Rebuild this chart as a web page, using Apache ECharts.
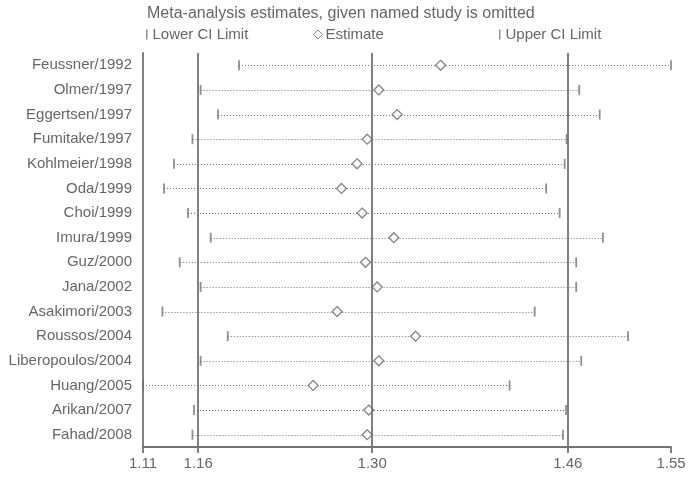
<!DOCTYPE html>
<html><head><meta charset="utf-8">
<script src="https://cdn.jsdelivr.net/npm/echarts@6/dist/echarts.min.js"></script>
<style>html,body{margin:0;padding:0;background:#fff}#c{width:698px;height:477px}</style>
</head><body><div id="c"></div>
<script>
const studies = ['Feussner/1992','Olmer/1997','Eggertsen/1997','Fumitake/1997','Kohlmeier/1998','Oda/1999','Choi/1999','Imura/1999','Guz/2000','Jana/2002','Asakimori/2003','Roussos/2004','Liberopoulos/2004','Huang/2005','Arikan/2007','Fahad/2008'];
const lowerCI   = [1.190, 1.158, 1.1725, 1.1512, 1.1358, 1.1275, 1.1475, 1.1664, 1.1406, 1.158, 1.1262, 1.1806, 1.158, 1.110, 1.1525, 1.1512];
const estimates = [1.358, 1.3065, 1.3218, 1.2968, 1.2884, 1.2754, 1.2926, 1.319, 1.2954, 1.3051, 1.2718, 1.3371, 1.3065, 1.2518, 1.2982, 1.2968];
const upperCI   = [1.550, 1.4735, 1.4906, 1.463, 1.4614, 1.446, 1.4572, 1.4933, 1.471, 1.471, 1.4364, 1.5142, 1.4752, 1.4155, 1.4625, 1.460];
const tickValues = [1.11, 1.156, 1.301, 1.464, 1.55];
const refLines = [1.156, 1.301, 1.464];

const gray = '#737373';
const textGray = '#666';
const chart = echarts.init(document.getElementById('c'));
chart.setOption({
  animation: false,
  textStyle: { fontFamily: '"Liberation Sans", Arial, sans-serif' },
  title: {
    text: 'Meta-analysis estimates, given named study is omitted',
    left: 147, top: 6, padding: 0,
    textStyle: { fontSize: 16, fontWeight: 'normal', color: textGray }
  },
  legend: [
    { data: ['Lower CI Limit'], left: 146, top: 27, padding: 0, itemWidth: 1.5, itemHeight: 10,
      textStyle: { fontSize: 15, color: textGray }, selectedMode: false },
    { data: ['Estimate'], left: 313, top: 27, padding: 0, itemWidth: 9, itemHeight: 9, itemGap: 0,
      itemStyle: { color: '#fff', borderColor: '#666', borderWidth: 1 },
      textStyle: { fontSize: 15, color: textGray, padding: [0,0,0,-2] }, selectedMode: false },
    { data: ['Upper CI Limit'], left: 499, top: 27, padding: 0, itemWidth: 1.5, itemHeight: 10,
      textStyle: { fontSize: 15, color: textGray }, selectedMode: false }
  ],
  grid: { left: 143, right: 27, top: 53, bottom: 30 },
  xAxis: {
    type: 'value', min: 1.11, max: 1.55,
    axisLine: { show: true, lineStyle: { color: gray, width: 1.8 } },
    axisTick: { show: true, customValues: tickValues, length: 6, lineStyle: { color: gray, width: 1.8 } },
    axisLabel: { customValues: tickValues, formatter: v => v.toFixed(2), fontSize: 15, color: textGray, margin: 9 },
    splitLine: { show: false }
  },
  yAxis: {
    type: 'category', data: studies, inverse: true,
    axisLine: { show: true, lineStyle: { color: gray, width: 1.8 } },
    axisTick: { show: false },
    axisLabel: { fontSize: 15, color: textGray, margin: 11 },
    splitLine: { show: false }
  },
  series: [
    {
      type: 'custom', name: 'CI', silent: true,
      data: studies.map((s, i) => [lowerCI[i], upperCI[i], i]),
      encode: { x: [0, 1], y: 2 },
      renderItem: function (params, api) {
        const p1 = api.coord([api.value(0), api.value(2)]);
        const p2 = api.coord([api.value(1), api.value(2)]);
        const y = Math.round(p1[1]) + 0.5;
        return { type: 'line', shape: { x1: p1[0], y1: y, x2: p2[0], y2: y },
                 style: { stroke: '#707070', lineWidth: 1, lineDash: [1, 2] } };
      },
      z: 1
    },
    {
      type: 'scatter', name: 'Lower CI Limit', symbol: 'rect', symbolSize: [1.8, 10],
      itemStyle: { color: gray }, data: lowerCI.map((v, i) => [v, i]), z: 3,
      markLine: {
        silent: true, symbol: 'none', precision: 4, label: { show: false },
        lineStyle: { color: gray, width: 1.8, type: 'solid' },
        data: refLines.map(v => ({ xAxis: v }))
      }
    },
    {
      type: 'scatter', name: 'Upper CI Limit', symbol: 'rect', symbolSize: [1.8, 10],
      itemStyle: { color: gray }, data: upperCI.map((v, i) => [v, i]), z: 3
    },
    {
      type: 'scatter', name: 'Estimate', symbol: 'diamond', symbolSize: 10,
      itemStyle: { color: '#fff', borderColor: '#666', borderWidth: 1.3 },
      data: estimates.map((v, i) => [v, i]), z: 4
    }
  ]
});
</script></body></html>
